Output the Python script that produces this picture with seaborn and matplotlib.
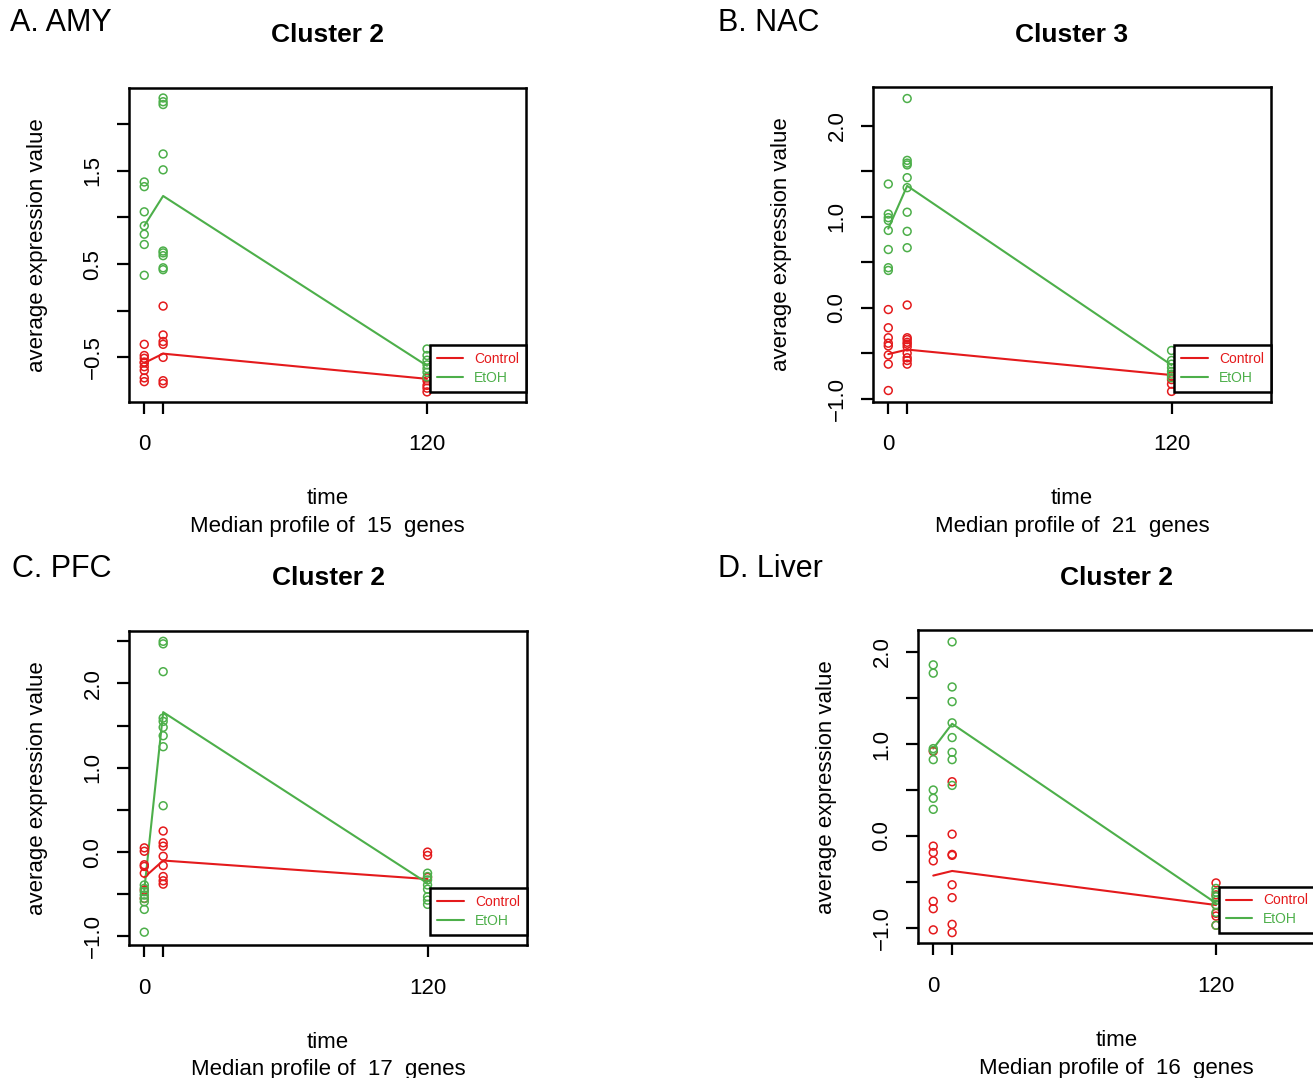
import numpy as np
import pandas as pd
import matplotlib
matplotlib.use("Agg")
import matplotlib.pyplot as plt
import seaborn as sns

# ---------------- data ----------------
TIMES = [0, 8, 120]
X_TICK_LABELS = ["0", "", "120"]
GROUPS = ["Control", "EtOH"]
COLORS = {"Control": "#E41A1C", "EtOH": "#4DAF4A"}

PANEL_LETTERS = ["A. AMY", "B. NAC", "C. PFC", "D. Liver"]
PANEL_TITLES = ["Cluster 2", "Cluster 3", "Cluster 2", "Cluster 2"]
PANEL_NGENES = [15, 21, 17, 16]

# A. AMY
AMY_CONTROL_T0 = [-0.36, -0.48, -0.51, -0.55, -0.56, -0.60, -0.64, -0.72, -0.76]
AMY_CONTROL_T8 = [0.05, -0.26, -0.33, -0.36, -0.50, -0.75, -0.78]
AMY_CONTROL_T120 = [-0.72, -0.75, -0.80, -0.83, -0.87]
AMY_ETOH_T0 = [1.38, 1.33, 1.06, 0.91, 0.82, 0.71, 0.38]
AMY_ETOH_T8 = [2.28, 2.24, 2.21, 1.68, 1.51, 0.64, 0.62, 0.59, 0.46, 0.44]
AMY_ETOH_T120 = [-0.41, -0.48, -0.53, -0.58, -0.62, -0.66, -0.71]
AMY_CONTROL_MEDIAN = [-0.56, -0.46, -0.73]
AMY_ETOH_MEDIAN = [0.91, 1.23, -0.59]
AMY_YTICKS = [-0.5, 0.0, 0.5, 1.0, 1.5, 2.0]
AMY_YTICK_LABELS = ["\u22120.5", "", "0.5", "", "1.5", ""]

# B. NAC
NAC_CONTROL_T0 = [-0.02, -0.22, -0.33, -0.39, -0.42, -0.52, -0.62, -0.91]
NAC_CONTROL_T8 = [0.03, -0.33, -0.35, -0.38, -0.40, -0.43, -0.50, -0.55, -0.58, -0.62]
NAC_CONTROL_T120 = [-0.75, -0.79, -0.84, -0.92]
NAC_ETOH_T0 = [1.36, 1.03, 0.99, 0.96, 0.85, 0.64, 0.44, 0.41]
NAC_ETOH_T8 = [2.30, 1.62, 1.59, 1.57, 1.43, 1.32, 1.05, 0.84, 0.66]
NAC_ETOH_T120 = [-0.47, -0.58, -0.62, -0.66, -0.70, -0.73, -0.77]
NAC_CONTROL_MEDIAN = [-0.51, -0.46, -0.74]
NAC_ETOH_MEDIAN = [0.87, 1.34, -0.63]
NAC_YTICKS = [-1.0, -0.5, 0.0, 0.5, 1.0, 1.5, 2.0]
NAC_YTICK_LABELS = ["\u22121.0", "", "0.0", "", "1.0", "", "2.0"]

# C. PFC
PFC_CONTROL_T0 = [0.05, 0.01, -0.15, -0.17, -0.25, -0.45, -0.55]
PFC_CONTROL_T8 = [0.25, 0.11, 0.07, -0.05, -0.16, -0.29, -0.34, -0.38]
PFC_CONTROL_T120 = [0.00, -0.04, -0.30]
PFC_ETOH_T0 = [-0.39, -0.43, -0.47, -0.51, -0.55, -0.59, -0.68, -0.95]
PFC_ETOH_T8 = [2.50, 2.47, 2.14, 1.59, 1.55, 1.48, 1.38, 1.25, 0.55]
PFC_ETOH_T120 = [-0.25, -0.29, -0.33, -0.39, -0.44, -0.53, -0.57, -0.62]
PFC_CONTROL_MEDIAN = [-0.30, -0.10, -0.32]
PFC_ETOH_MEDIAN = [-0.45, 1.66, -0.37]
PFC_YTICKS = [-1.0, -0.5, 0.0, 0.5, 1.0, 1.5, 2.0, 2.5]
PFC_YTICK_LABELS = ["\u22121.0", "", "0.0", "", "1.0", "", "2.0", ""]

# D. Liver
LIVER_CONTROL_T0 = [0.92, -0.11, -0.18, -0.27, -0.71, -0.79, -1.02]
LIVER_CONTROL_T8 = [0.59, 0.02, -0.20, -0.21, -0.53, -0.67, -0.96, -1.05]
LIVER_CONTROL_T120 = [-0.51, -0.64, -0.75, -0.84, -0.87, -0.97]
LIVER_ETOH_T0 = [1.86, 1.77, 0.95, 0.93, 0.83, 0.50, 0.41, 0.29]
LIVER_ETOH_T8 = [2.11, 1.62, 1.46, 1.23, 1.07, 0.91, 0.83, 0.55]
LIVER_ETOH_T120 = [-0.57, -0.61, -0.66, -0.70, -0.75, -0.83, -0.97]
LIVER_CONTROL_MEDIAN = [-0.43, -0.38, -0.75]
LIVER_ETOH_MEDIAN = [0.95, 1.22, -0.73]
LIVER_YTICKS = [-1.0, -0.5, 0.0, 0.5, 1.0, 1.5, 2.0]
LIVER_YTICK_LABELS = ["\u22121.0", "", "0.0", "", "1.0", "", "2.0"]

PANEL_DATA = [
    ([AMY_CONTROL_T0, AMY_CONTROL_T8, AMY_CONTROL_T120],
     [AMY_ETOH_T0, AMY_ETOH_T8, AMY_ETOH_T120],
     AMY_CONTROL_MEDIAN, AMY_ETOH_MEDIAN, AMY_YTICKS, AMY_YTICK_LABELS),
    ([NAC_CONTROL_T0, NAC_CONTROL_T8, NAC_CONTROL_T120],
     [NAC_ETOH_T0, NAC_ETOH_T8, NAC_ETOH_T120],
     NAC_CONTROL_MEDIAN, NAC_ETOH_MEDIAN, NAC_YTICKS, NAC_YTICK_LABELS),
    ([PFC_CONTROL_T0, PFC_CONTROL_T8, PFC_CONTROL_T120],
     [PFC_ETOH_T0, PFC_ETOH_T8, PFC_ETOH_T120],
     PFC_CONTROL_MEDIAN, PFC_ETOH_MEDIAN, PFC_YTICKS, PFC_YTICK_LABELS),
    ([LIVER_CONTROL_T0, LIVER_CONTROL_T8, LIVER_CONTROL_T120],
     [LIVER_ETOH_T0, LIVER_ETOH_T8, LIVER_ETOH_T120],
     LIVER_CONTROL_MEDIAN, LIVER_ETOH_MEDIAN, LIVER_YTICKS, LIVER_YTICK_LABELS),
]

# ---------------- layout ----------------
sns.set_style("ticks")
plt.rcParams['font.family'] = ['Liberation Sans', 'DejaVu Sans']
plt.rcParams['axes.unicode_minus'] = True
plt.rcParams['text.color'] = 'black'
plt.rcParams['axes.labelcolor'] = 'black'
plt.rcParams['xtick.color'] = 'black'
plt.rcParams['ytick.color'] = 'black'
plt.rcParams['axes.edgecolor'] = 'black'

W, H = 1313, 1078
fig = plt.figure(figsize=(W / 100, H / 100), dpi=100)

# axes boxes in pixels: left, top, right, bottom
BOXES = [(129.3, 88.3, 526.0, 401.7),
         (873.3, 86.7, 1270.7, 401.7),
         (129.3, 630.7, 526.7, 945.0),
         (918.3, 630.0, 1315.0, 943.3)]
YLIMS = [(-0.975, 2.384), (-1.033, 2.43), (-1.102, 2.626), (-1.166, 2.239)]
XLIM = (-6.35, 162.0)
LETTER_POS = [(10, 23), (718, 23), (12, 569), (718, 569)]
YLABEL_X = [38, 782, 38, 827]

for i, (ctrl_pts, etoh_pts, ctrl_med, etoh_med, yticks, ylabels) in enumerate(PANEL_DATA):
    l, t, r, b = BOXES[i]
    ax = fig.add_axes([l / W, 1 - b / H, (r - l) / W, (b - t) / H])
    hpx = b - t

    for grp, pts, med in (("Control", ctrl_pts, ctrl_med), ("EtOH", etoh_pts, etoh_med)):
        col = COLORS[grp]
        df = pd.DataFrame({
            "time": np.concatenate([[tt] * len(v) for tt, v in zip(TIMES, pts)]),
            "value": np.concatenate([np.asarray(v, float) for v in pts]),
        })
        sns.scatterplot(data=df, x="time", y="value", ax=ax, marker="o", s=32,
                        color=col, facecolor="none", edgecolor=col,
                        linewidth=1.1, zorder=3)
        sns.lineplot(x=TIMES, y=med, ax=ax, color=col, lw=1.5, label=grp, zorder=2)

    ax.set_xlim(*XLIM)
    ax.set_ylim(*YLIMS[i])
    ax.set_xticks(TIMES)
    ax.set_xticklabels(X_TICK_LABELS)
    ax.set_yticks(yticks)
    ax.set_yticklabels(ylabels)
    ax.set_xlabel("")
    ax.set_ylabel("")
    for sp in ax.spines.values():
        sp.set_visible(True)
        sp.set_linewidth(1.8)
        sp.set_color("black")
    ax.tick_params(axis="both", direction="out", length=8.6, width=1.6,
                   labelsize=16, colors="black")
    ax.tick_params(axis="x", pad=15)
    ax.tick_params(axis="y", pad=10, labelrotation=90)
    for lab in ax.get_yticklabels():
        lab.set_va("center")

    leg = ax.legend(loc="lower right", bbox_to_anchor=(1.0, 10 / hpx),
                    borderaxespad=0, fontsize=10, frameon=True, fancybox=False,
                    framealpha=1, borderpad=0.5, labelspacing=0.35,
                    handlelength=1.9, handletextpad=0.8, labelcolor="linecolor")
    leg.get_frame().set_edgecolor("black")
    leg.get_frame().set_linewidth(1.8)

    # title
    ax.text(0.5, 1 + (t - (35 if i < 2 else 578)) / hpx, PANEL_TITLES[i],
            transform=ax.transAxes, ha="center", va="center",
            fontsize=19, fontweight="bold")
    # x labels
    ax.text(0.5, -97 / hpx, "time", transform=ax.transAxes,
            ha="center", va="center", fontsize=16)
    ax.text(0.5, -125 / hpx, f"Median profile of  {PANEL_NGENES[i]}  genes",
            transform=ax.transAxes, ha="center", va="center", fontsize=16)
    # y label
    fig.text(YLABEL_X[i] / W, 1 - ((t + b) / 2) / H, "average expression value",
             rotation=90, ha="center", va="center", fontsize=16)
    # panel letter
    lx, ly = LETTER_POS[i]
    fig.text(lx / W, 1 - ly / H, PANEL_LETTERS[i], ha="left", va="center",
             fontsize=22)

fig.savefig("out.png", dpi=100)
